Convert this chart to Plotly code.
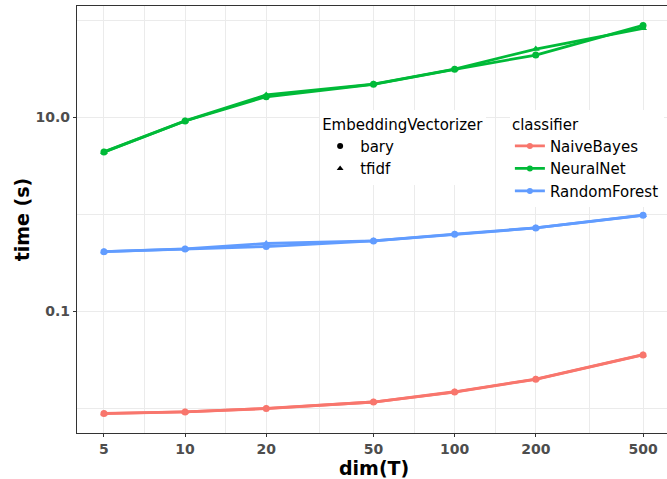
import plotly.graph_objects as go

dims = [5, 10, 20, 50, 100, 200, 500]

# time (s) per classifier / vectorizer
nb_bary = [0.00881, 0.00916, 0.00993, 0.0116, 0.0147, 0.0199, 0.0355]
nb_tfidf = [0.00885, 0.00920, 0.00998, 0.0116, 0.0148, 0.0200, 0.0357]
nn_bary = [4.38, 9.17, 16.3, 21.9, 31.3, 43.9, 88.7]
nn_tfidf = [4.40, 9.20, 17.0, 22.0, 31.4, 50.6, 82.8]
rf_bary = [0.412, 0.438, 0.465, 0.531, 0.622, 0.723, 0.977]
rf_tfidf = [0.413, 0.440, 0.500, 0.533, 0.625, 0.725, 0.980]

classifiers = ["NaiveBayes", "NeuralNet", "RandomForest"]
vectorizers = ["bary", "tfidf"]
colors = {"NaiveBayes": "#F8766D", "NeuralNet": "#00BA38", "RandomForest": "#619CFF"}
symbols = {"bary": "circle", "tfidf": "triangle-up"}
series = {
    ("NaiveBayes", "bary"): nb_bary, ("NaiveBayes", "tfidf"): nb_tfidf,
    ("NeuralNet", "bary"): nn_bary, ("NeuralNet", "tfidf"): nn_tfidf,
    ("RandomForest", "bary"): rf_bary, ("RandomForest", "tfidf"): rf_tfidf,
}

x_ticks = [5, 10, 20, 50, 100, 200, 500]
x_ticktext = ["5", "10", "20", "50", "100", "200", "500"]
x_minor = [7.0711, 14.142, 31.623, 70.711, 141.42, 316.23]
y_ticks = [0.1, 10, 1000]
y_ticktext = ["0.1", "10.0", "1000.0"]
y_minor = [0.01, 1, 100]

fig = go.Figure()
for c in classifiers:
    for v in vectorizers:
        fig.add_trace(go.Scatter(
            x=dims, y=series[(c, v)], mode="lines+markers",
            line=dict(color=colors[c], width=2.8),
            marker=dict(symbol=symbols[v], size=7, color=colors[c]),
            showlegend=False, hoverinfo="x+y+name", name=f"{c} / {v}",
        ))

for v in vectorizers:
    fig.add_trace(go.Scatter(
        x=[None], y=[None], mode="markers", name=v,
        marker=dict(symbol=symbols[v], size=6, color="black"),
        legend="legend",
    ))
for c in classifiers:
    fig.add_trace(go.Scatter(
        x=[None], y=[None], mode="lines+markers", name=c,
        line=dict(color=colors[c], width=2.8),
        marker=dict(symbol="circle", size=6, color=colors[c]),
        legend="legend2",
    ))

axis_font = dict(family="DejaVu Sans", size=14, color="#4D4D4D", weight="bold")
title_font = dict(family="DejaVu Sans", size=19, color="black", weight="bold")

fig.update_layout(
    width=670, height=479,
    margin=dict(l=77, r=0, t=6, b=46, autoexpand=False),
    paper_bgcolor="white", plot_bgcolor="white",
    font=dict(family="DejaVu Sans", size=15, color="black"),
    xaxis=dict(
        type="log", range=[0.599, 2.799], automargin=False,
        tickmode="array", tickvals=x_ticks, ticktext=x_ticktext,
        tickfont=axis_font, ticks="outside", ticklen=3, tickcolor="#333333",
        showline=True, linecolor="#333333", linewidth=1.2, mirror=True,
        showgrid=True, gridcolor="#EBEBEB", gridwidth=1.1,
        minor=dict(tickmode="array", tickvals=x_minor, showgrid=True,
                   gridcolor="#EBEBEB", gridwidth=0.8, ticks=""),
        zeroline=False,
    ),
    yaxis=dict(
        type="log", range=[-2.255, 2.148], automargin=False,
        tickmode="array", tickvals=y_ticks, ticktext=y_ticktext,
        tickfont=axis_font, ticks="outside", ticklen=3, tickcolor="#333333",
        showline=True, linecolor="#333333", linewidth=1.2, mirror=False,
        showgrid=True, gridcolor="#EBEBEB", gridwidth=1.1,
        minor=dict(tickmode="array", tickvals=y_minor, showgrid=True,
                   gridcolor="#EBEBEB", gridwidth=0.8, ticks=""),
        zeroline=False,
    ),
    legend=dict(
        title=dict(text="EmbeddingVectorizer", font=dict(size=15)),
        x=0.41, y=0.756, xanchor="left", yanchor="top",
        bgcolor="white", font=dict(size=15), itemwidth=30,
        tracegroupgap=0,
    ),
    legend2=dict(
        title=dict(text="classifier", font=dict(size=15)),
        x=0.730, y=0.756, xanchor="left", yanchor="top",
        bgcolor="white", font=dict(size=15), itemwidth=30,
        tracegroupgap=0,
    ),
    annotations=[
        dict(text="dim(T)", xref="paper", yref="paper", x=0.5, y=-0.081,
             xanchor="center", yanchor="middle", showarrow=False, font=title_font),
        dict(text="time (s)", xref="paper", yref="paper", x=-0.093, y=0.5,
             xanchor="center", yanchor="middle", showarrow=False, textangle=-90,
             font=title_font),
    ],
)

fig.write_html(
    "out.html",
    config={"displayModeBar": False},
    post_script="document.body.style.margin='0';document.body.style.overflow='hidden';",
)
